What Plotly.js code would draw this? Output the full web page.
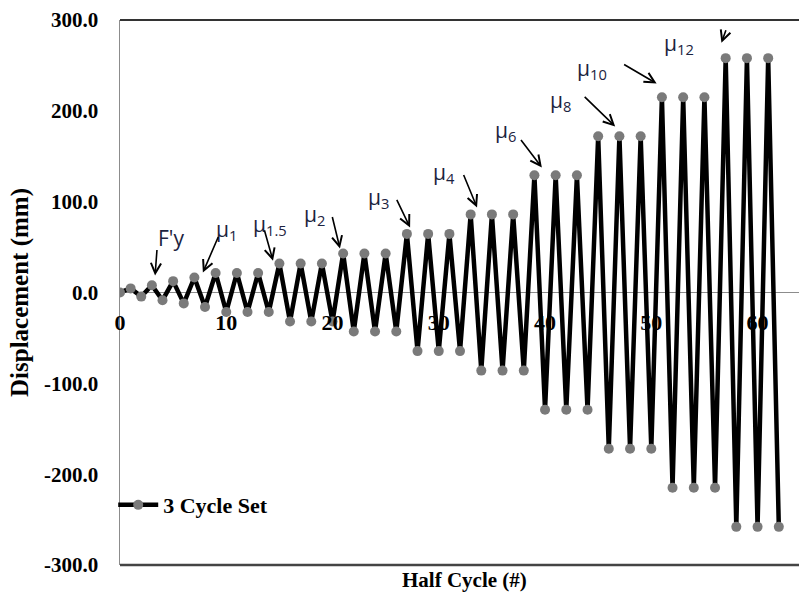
<!DOCTYPE html>
<html>
<head>
<meta charset="utf-8">
<script src="https://cdn.plot.ly/plotly-3.0.1.min.js"></script>
<style>html,body{margin:0;padding:0;background:#fff;}#chart{width:799px;height:603px;}</style>
</head>
<body>
<div id="chart"></div>
<script>
// ---- data ----
const halfCycle = [0,1,2,3,4,5,6,7,8,9,10,11,12,13,14,15,16,17,18,19,20,21,22,23,24,25,26,27,28,29,30,31,32,33,34,35,36,37,38,39,40,41,42,43,44,45,46,47,48,49,50,51,52,53,54,55,56,57,58,59,60,61,62];
const displacement = [0,
  4.5,-4.5, 8,-8.5, 12.5,-12, 16.5,-16,
  21.5,-21.5,21.5,-21.5,21.5,-21.5,
  32,-32,32,-32,32,-32,
  43,-43,43,-43,43,-43,
  64.5,-64.5,64.5,-64.5,64.5,-64.5,
  86,-86,86,-86,86,-86,
  129,-129,129,-129,129,-129,
  172,-172,172,-172,172,-172,
  215,-215,215,-215,215,-215,
  258,-258,258,-258,258,-258];
const xTickVals = [0,10,20,30,40,50,60];
const xTickText = ['0','10','20','30','40','50','60'];
const yTickVals = [-300,-200,-100,0,100,200,300];
const yTickText = ['-300.0','-200.0','-100.0','0.0','100.0','200.0','300.0'];
const seriesName = '3 Cycle Set';
// ductility level labels
const levelLabels = ["F'y",'μ<sub>1</sub>','μ<sub>1.5</sub>','μ<sub>2</sub>','μ<sub>3</sub>','μ<sub>4</sub>','μ<sub>6</sub>','μ<sub>8</sub>','μ<sub>10</sub>','μ<sub>12</sub>'];
const labelX = [4.8,10.0,14.1,18.3,24.3,30.5,36.3,41.5,44.4,52.6];
const labelY = [59.5,68.3,73.8,84.8,103.5,132,178,211,245.6,274];
const headX = [3.3,7.8,14.4,20.7,27.3,33.6,39.7,46.6,50.5,56.6];
const headY = [18.7,22,35,48.5,71.6,93.6,137.7,182.8,230,275];
const tailDX = [2,16,-9,-8,-14,-14,-22,-32,-34,5];
const tailDY = [-27,-37,-32,-33,-29,-34,-29,-31,-20,-14];

const serif = 'Liberation Serif, Times New Roman, serif';
const annFont = {family:'Open Sans, Noto Sans, sans-serif', size:21, color:'#1c2340'};

const trace = {
  x: halfCycle, y: displacement, type:'scatter', mode:'lines+markers', name: seriesName,
  line:{color:'#000000', width:4.5},
  marker:{color:'#7a7a7a', size:10}
};

const annotations = [];
for (let k=0;k<levelLabels.length;k++){
  annotations.push({x:labelX[k], y:labelY[k], xref:'x', yref:'y', text:levelLabels[k], showarrow:false, font:annFont});
  annotations.push({x:headX[k], y:headY[k], xref:'x', yref:'y', text:'', showarrow:true,
    ax:tailDX[k], ay:tailDY[k], arrowhead:5, arrowsize:1.25, arrowwidth:1.6, arrowcolor:'#000'});
}
annotations.push({x:0.508, y:0, xref:'paper', yref:'paper', xanchor:'center', yanchor:'top', yshift:-1,
  text:'Half Cycle (#)', showarrow:false, font:{family:serif, size:21, color:'#000', weight:'bold'}});

const layout = {
  width:799, height:603,
  margin:{l:120, r:0, t:20, b:38},
  paper_bgcolor:'#fff', plot_bgcolor:'#fff',
  showlegend:true,
  legend:{x:-0.01, y:0.11, xanchor:'left', yanchor:'middle', bgcolor:'rgba(0,0,0,0)', itemwidth:40,
    font:{family:serif, size:22, color:'#000', weight:'bold'}},
  xaxis:{range:[0,63.9], anchor:'free', position:0.5, tickvals:xTickVals, ticktext:xTickText,
    showgrid:false, zeroline:false, showline:false, ticks:'', ticklabelstandoff:14,
    tickfont:{family:serif, size:22, color:'#000', weight:'bold'}},
  yaxis:{range:[-300,300], tickvals:yTickVals, ticktext:yTickText, showgrid:false,
    zeroline:true, zerolinecolor:'#8c8c8c', zerolinewidth:1.5,
    showline:true, linecolor:'#8c8c8c', linewidth:1.5, ticks:'', ticklabelstandoff:16,
    tickfont:{family:serif, size:21, color:'#000', weight:'bold'},
    title:{text:'Displacement (mm)', standoff:8, font:{family:serif, size:25, color:'#000', weight:'bold'}}},
  shapes:[
    {type:'line', xref:'paper', yref:'paper', x0:0, x1:1, y0:1, y1:1, line:{color:'#333', width:2}},
    {type:'line', xref:'paper', yref:'paper', x0:0, x1:1, y0:0, y1:0, line:{color:'#444', width:2.5}}
  ],
  annotations: annotations
};
Plotly.newPlot('chart',[trace],layout,{displayModeBar:false, staticPlot:true});
</script>
</body>
</html>
